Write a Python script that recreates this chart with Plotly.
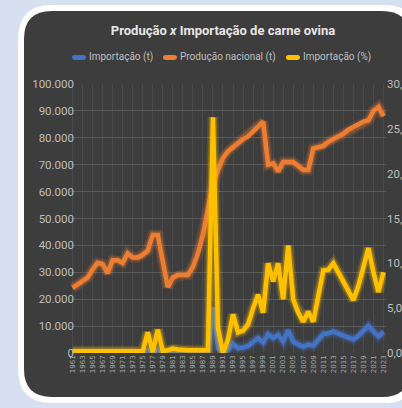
import plotly.graph_objects as go

years = [str(y) for y in range(1961, 2024)]

producao_t = [24.2, 25.5, 27, 28, 31, 33.5, 33, 29.7, 34.5, 34.5, 33.5, 37, 35.5, 35.5, 36.5, 38,
              43.9, 43.9, 34, 24.5, 28, 29, 29, 29, 32, 37, 44, 53, 63, 68, 72.5, 75, 76.6, 78,
              79.5, 80.5, 82.5, 84.5, 86, 70, 70.5, 67.5, 71, 71, 71, 69.5, 68, 68, 76, 76.5, 77,
              78.5, 79.5, 80.5, 81.5, 83, 84, 85, 86, 86.5, 90, 91.5, 88]
producao_t = [v * 1000 for v in producao_t]

importacao_t = [0.1] * 15 + [0.9, 0.05, 1.1, 0.1, 0.1, 0.15, 0.15, 0.1, 0.1, 0.1, 0.1, 0.1, 0.1,
                17, 1.9, 0, 1.1, 3.3, 1.8, 2.0, 2.6, 4.1, 5.5, 3.9, 7.0, 5.6, 6.7, 4.3, 8.5, 4.3,
                3.1, 2.4, 3.1, 2.7, 5.0, 7.1, 7.3, 8.0, 7.2, 6.4, 5.8, 5.0, 6.4, 8.2, 10.1, 8.1,
                6.2, 7.9]
importacao_t = [v * 1000 for v in importacao_t]

importacao_pct = [0.2] * 15 + [2.3, 0.1, 2.6, 0.2, 0.3, 0.5, 0.4, 0.3, 0.3, 0.3, 0.3, 0.3, 0.3,
                  26.3, 2.8, 0, 1.5, 4.3, 2.3, 2.5, 3.2, 5, 6.5, 4.5, 10, 8, 10, 6, 12, 6, 4.5,
                  3.5, 4.6, 3.5, 6.5, 9.2, 9.3, 10, 9, 7.9, 7, 5.9, 7.5, 9.5, 11.7, 9, 6.8, 9]

series_names = ["Importação (t)", "Produção nacional (t)", "Importação (%)"]
series_colors = ["#4472C4", "#ED7D31", "#FFC000"]

W, H = 402, 408
ML, MR, MT, MB = 70, 16, 84, 55
PW = W - ML - MR
PH = H - MT - MB

FONT = "Roboto, sans-serif"
TXT = "#bfbfbf"
BG = "#d7e0f0"


def px2paper(x, y):
    return (x - ML) / PW, (H - MB - y) / PH


def rrect(x0, y0, x1, y1, r):
    def P(x, y):
        a, b = px2paper(x, y)
        return f"{a:.5f},{b:.5f}"
    d = f"M{P(x0 + r, y0)} L{P(x1 - r, y0)} Q{P(x1, y0)} {P(x1, y0 + r)} "
    d += f"L{P(x1, y1 - r)} Q{P(x1, y1)} {P(x1 - r, y1)} "
    d += f"L{P(x0 + r, y1)} Q{P(x0, y1)} {P(x0, y1 - r)} "
    d += f"L{P(x0, y0 + r)} Q{P(x0, y0)} {P(x0 + r, y0)} Z"
    return d


fig = go.Figure()

series_values = [importacao_t, producao_t, importacao_pct]
series_axes = ["y", "y", "y2"]

for name, vals, col, ax in zip(series_names, series_values, series_colors, series_axes):
    for w, op in [(11, 0.14), (7.5, 0.3)]:
        fig.add_trace(go.Scatter(x=years, y=vals, mode="lines", yaxis=ax, showlegend=False,
                                 hoverinfo="skip", opacity=op,
                                 line=dict(color=col, width=w)))
    fig.add_trace(go.Scatter(x=years, y=vals, mode="lines", name=name, yaxis=ax,
                             showlegend=False, line=dict(color=col, width=4.5)))

# legend drawn as compact swatches + labels (like the original Excel legend)
shapes = [
    dict(type="path", xref="paper", yref="paper", layer="below",
         path=rrect(18, 5, 418, 403, 34), fillcolor="#ffffff", line=dict(width=0)),
    dict(type="path", xref="paper", yref="paper", layer="below",
         path=rrect(24, 11, 410, 397, 28), fillcolor="#3d3d3d", line=dict(width=0)),
]
annotations = []
legend_x = [72, 163, 286]
for lx, name, col in zip(legend_x, series_names, series_colors):
    shapes.append(dict(type="path", xref="paper", yref="paper",
                       path=rrect(lx, 55, lx + 14, 60, 2.5), fillcolor=col,
                       line=dict(width=0)))
    ax_, ay_ = px2paper(lx + 15, 57.5)
    annotations.append(dict(text=name, x=ax_, y=ay_, xref="paper", yref="paper",
                            xanchor="left", yanchor="middle", showarrow=False,
                            font=dict(family=FONT, size=10, color=TXT)))

fig.update_layout(
    width=W, height=H,
    margin=dict(l=ML, r=MR, t=MT, b=MB, autoexpand=False),
    paper_bgcolor=BG,
    plot_bgcolor="rgba(0,0,0,0)",
    separators=",.",
    template="none",
    showlegend=False,
    font=dict(family=FONT, color=TXT, size=12),
    title=dict(text="<b>Produção <i>x</i> Importação de carne ovina</b>",
               x=223 / W, xref="container", xanchor="center",
               y=1 - 30 / H, yref="container", yanchor="middle",
               font=dict(family=FONT, size=13, color="#e6e6e6")),
    xaxis=dict(type="category", range=[-0.5, len(years) - 0.5], tickangle=-90,
               tickfont=dict(family="DejaVu Sans", size=7, color="#a6a6a6"),
               showgrid=True, gridcolor="#4a4a4a", gridwidth=1, ticks="",
               showline=False, zeroline=False, automargin=False),
    yaxis=dict(range=[0, 100000], dtick=10000, tickformat=",d",
               showgrid=True, gridcolor="#5a5a5a", gridwidth=1, zeroline=False,
               tickfont=dict(family=FONT, size=11.5, color=TXT), ticks="",
               automargin=False, showline=False),
    yaxis2=dict(range=[0, 30], dtick=5, tickformat=".1f", overlaying="y", side="right",
                showgrid=False, zeroline=False, ticks="", automargin=False, showline=False,
                tickfont=dict(family=FONT, size=11.5, color=TXT)),
    shapes=shapes,
    annotations=annotations,
)

try:
    fig.update_layout(yaxis_ticklabelstandoff=-5, yaxis2_ticklabelstandoff=0)
except Exception:
    pass

fig.write_html("out.html", config={"displayModeBar": False},
               post_script=f"document.body.style.margin='0';document.body.style.background='{BG}';")
